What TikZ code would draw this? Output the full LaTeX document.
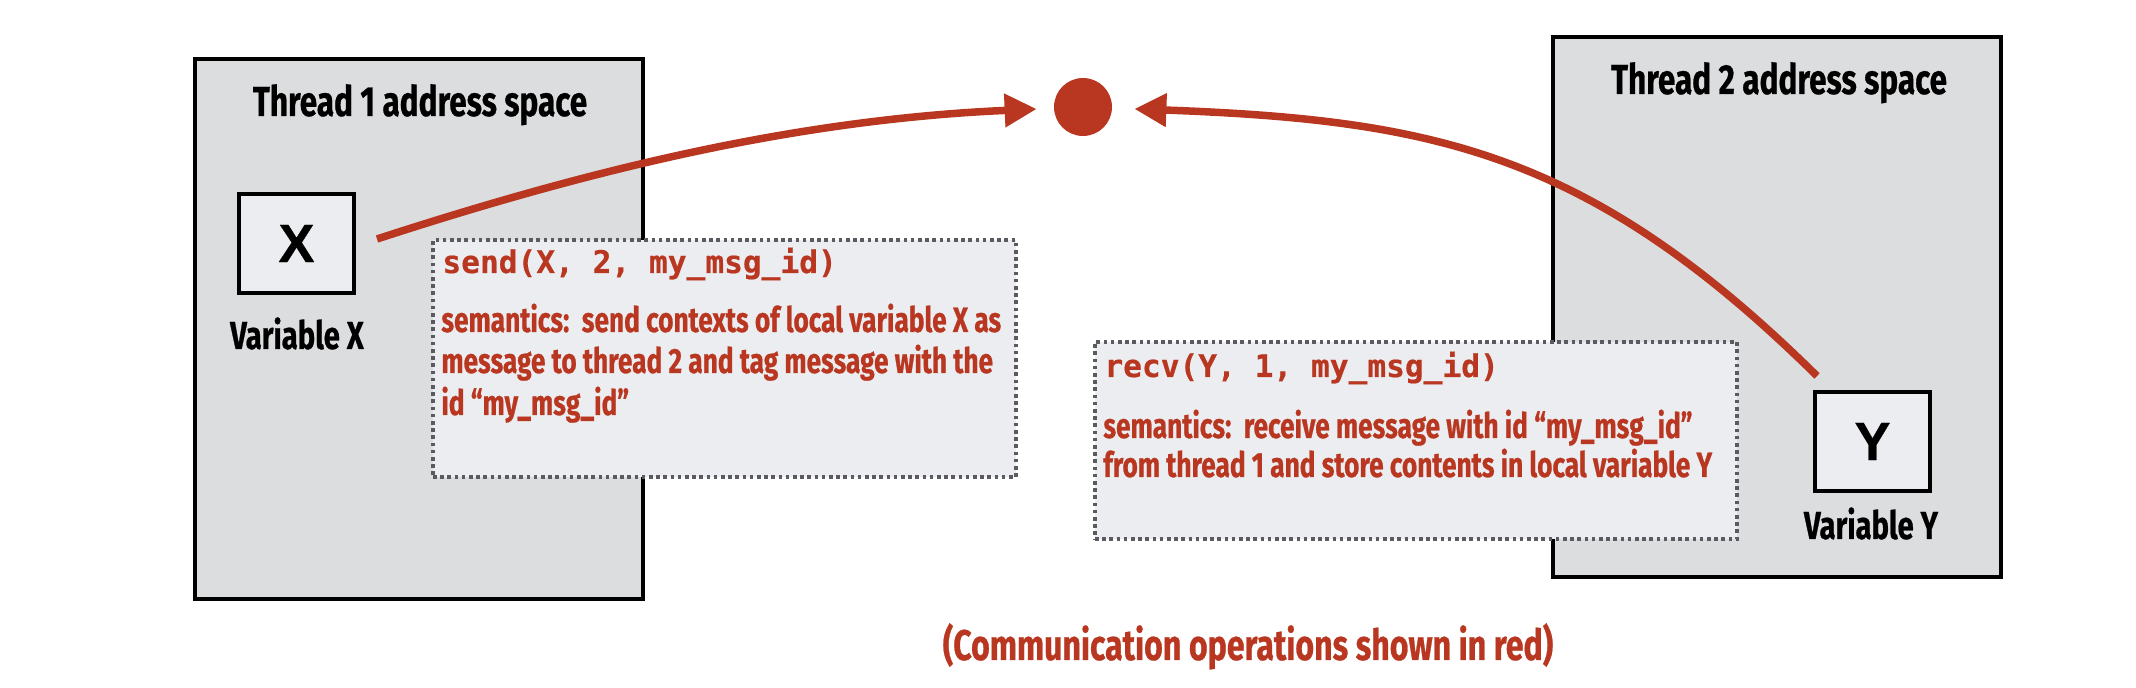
\documentclass[tikz,border=0pt]{standalone}
\usepackage{fontspec}
\usetikzlibrary{arrows.meta}
\setmainfont{Fira Sans}
\newfontfamily\condfont[FakeStretch=0.75,FakeBold=0.6]{Fira Sans}
\newfontfamily\codefont[FakeBold=0.5]{DejaVu Sans Mono}
\newfontfamily\helvfont[FakeBold=0.6]{Liberation Sans}
\definecolor{cred}{RGB}{185,55,32}
\definecolor{tgray}{RGB}{220,221,223}
\definecolor{lgray}{RGB}{236,237,241}
\definecolor{dgray}{RGB}{90,90,96}
\begin{document}
\begin{tikzpicture}[x=0.5pt,y=-0.5pt,
  thread/.style={draw=black, line width=2pt, fill=tgray, minimum width=224pt, minimum height=270pt, inner sep=0pt},
  varbox/.style={draw=black, line width=1.6pt, fill=lgray, minimum width=57.5pt, minimum height=49.5pt, inner sep=0pt, font=\helvfont\bfseries\fontsize{27}{27}\selectfont},
  opbox/.style={draw=dgray, line width=1.8pt, dash pattern=on 1.8pt off 1.8pt, fill=lgray, inner sep=0pt},
  titletext/.style={anchor=base, inner sep=0pt, font=\condfont\bfseries\fontsize{21}{21}\selectfont},
  varlabel/.style={anchor=base, inner sep=0pt, font=\condfont\bfseries\fontsize{19.5}{19.5}\selectfont},
  codetext/.style={anchor=base west, inner sep=0pt, text=cred, font=\codefont\bfseries\fontsize{15.6}{15.6}\selectfont},
  semtext/.style={anchor=base west, inner sep=0pt, text=cred, font=\condfont\bfseries\fontsize{17.5}{17.5}\selectfont},
  captext/.style={anchor=base, inner sep=0pt, text=cred, font=\condfont\bfseries\fontsize{21.4}{21.4}\selectfont},
  msgdot/.style={circle, fill=cred, minimum size=29pt, inner sep=0pt},
  redarrow/.style={draw=cred, line width=3.75pt, -{Triangle[length=16pt,width=16pt]}}
]
\useasboundingbox (0,0) rectangle (2136,688);
\fill[white] (0,0) rectangle (2136,688);

% thread address spaces
\node[thread] (th1) at (419,329.5) {};
\node[thread] (th2) at (1776.5,307.5) {};

% operation boxes
\node[opbox, minimum width=291.5pt, minimum height=118.5pt] (sendbox) at (724.5,358.5) {};
\node[opbox, minimum width=321pt, minimum height=98.5pt] (recvbox) at (1416,440.5) {};

% titles
\node[titletext] (t1) at (420,116) {Thread 1 address space};
\node[titletext] (t2) at (1779,94) {Thread 2 address space};

% variables
\node[varbox] (vx) at (296.5,243.5) {X};
\node[varbox] (vy) at (1872.5,441.5) {Y};
\node[varlabel] (lx) at (297,349) {Variable X};
\node[varlabel] (ly) at (1871,539) {Variable Y};

% send text
\node[codetext] (sc) at (442,273) {send(X, 2, my\_msg\_id)};
\node[semtext] (s1) at (441,332) {semantics:\ \ send contexts of local variable X as};
\node[semtext] (s2) at (441,373) {message to thread 2 and tag message with the};
\node[semtext] (s3) at (441,415) {id “my\_msg\_id”};

% recv text
\node[codetext] (rc) at (1104,377) {recv(Y, 1, my\_msg\_id)};
\node[semtext] (r1) at (1103,438) {semantics:\ \ receive message with id “my\_msg\_id”};
\node[semtext] (r2) at (1103,477) {from thread 1 and store contents in local variable Y};

% message dot and arrows
\node[msgdot] (msg) at (1083,107) {};
\coordinate (xs) at (377,239);
\coordinate (ys) at (1817,376);
\draw[redarrow, shorten >=8.5pt] (xs) .. controls (577,174) and (787,120) .. (msg);
\draw[redarrow, shorten >=11pt] (ys) .. controls (1590,152) and (1434,120) .. (msg);

% caption
\node[captext] (cap) at (1248,660) {(Communication operations shown in red)};
\end{tikzpicture}
\end{document}
